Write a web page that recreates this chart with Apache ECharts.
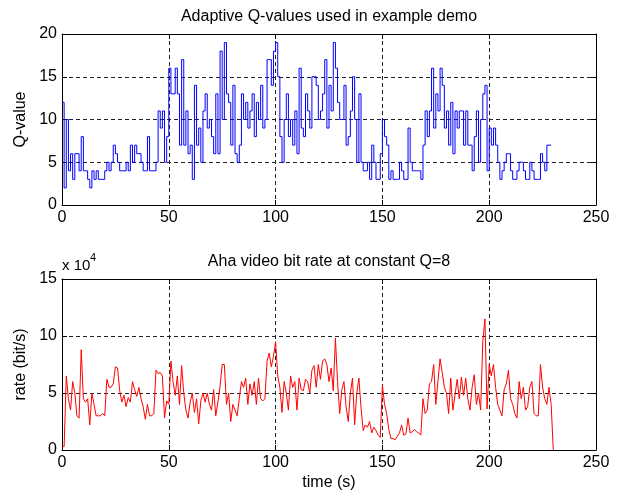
<!DOCTYPE html>
<html><head><meta charset="utf-8">
<script src="https://cdn.jsdelivr.net/npm/echarts/dist/echarts.min.js"></script>
<style>html,body{margin:0;padding:0;background:#fff}#c{width:618px;height:496px}</style>
</head><body><div id="c"></div>
<script>
// Top panel: adaptive Q-value per second (t = 0..229 s)
const qValues = [12,2,10,4,6,3,6,6,4,8, 4,4,3,2,4,3,4,3,3,3, 4,5,4,5,7,6,5,4,4,4,
 5,4,7,5,7,6,6,5,4,4, 8,4,4,4,5,11,9,11,5,8, 16,13,13,16,13,7,17,7,11,6,
 7,3,14,7,9,5,11,13,9,10, 8,6,13,6,18,10,19,13,12,7, 14,6,5,7,13,10,12,9,11,13,
 8,12,10,14,9,10,17,17,14,18, 19,15,8,5,10,13,8,10,7,11, 6,16,9,8,13,11,9,15,15,14,
 10,11,13,17,9,14,11,19,16,12, 10,10,14,7,8,11,15,10,5,13, 5,4,4,5,3,7,5,3,3,6,
 10,8,7,3,4,3,3,3,5,4, 3,3,9,5,4,4,4,4,3,7, 11,8,11,16,9,13,11,16,14,9,
 11,7,12,6,11,9,11,11,7,11, 7,7,4,8,11,5,10,13,14,4, 9,7,9,7,5,3,4,5,6,6,
 4,3,3,4,5,5,4,3,3,5, 4,3,3,3,6,5,4,7,7,7];
// Bottom panel: bit rate per second, in units of 10^4 bit/s (t = 0..230 s)
const rateValues = [0.3,0.3,6.5,4.5,3.5,6,5,3,2.8,8.8, 4.5,4.2,4.5,2.2,5,4,3,3,3,3.2,
 3,6.2,5.5,5.5,5.8,7.3,7.2,5.2,4.2,4.8, 3.8,4.6,4.2,6,5.3,4.7,5.5,4.5,3.8,2.7,
 4,3,3,3.2,7,6.7,6.8,6.5,2.8,4.3, 4,7.8,6,4.8,6.5,4,7.4,5,3.5,2.8,
 4.2,5,3.3,4.5,2.3,4.3,5,4.2,5,4, 3.5,5.3,3,4.2,5.6,7.5,7.5,4,5,2.5,
 4,3.5,3,4.5,6,5.5,6.3,4,5.8,4.8, 6,4,6.3,4.5,4.3,4.5,7.8,8.5,7.3,8.2,
 9.5,6.5,5.5,3.3,6,5,3.5,6.5,5.5,6, 3.5,6.3,5.3,5.2,6.2,6,5,7,7.4,5.5,
 7.5,6.2,7.8,8,7.5,6,7.2,5.2,9.8,6, 3.2,5.3,6,3.8,2.5,5,6.3,2.2,5,6.3,
 3.7,1.7,2.2,2,2.5,1.5,2,1.7,1.3,1.1, 5.7,4,3.2,1.8,1,1,0.9,1.2,1.5,2.2,
 1.3,1.4,2.8,1.5,1.6,1.8,1.6,1.5,1.3,4.5, 3.2,3.5,5.8,6,7.5,4,6,8,6.8,5.5,
 5,3.2,6.3,3.5,4.8,6.2,4.5,6.4,4.8,6.3, 4.5,3.5,5.5,6.6,4,5,3.5,9.5,11.5,3.6,
 7.5,6.5,7.5,5.5,4,3.5,3,5.3,5.8,7, 4.5,4,3.2,2.8,6,4.5,5.5,3.5,3.8,5.5,
 6,3.2,3,3,7.5,5.5,4.5,4,5.5,4, 0];
const xTicks = [0,50,100,150,200,250];
const qTicks = [0,5,10,15,20];
const rateTicks = [0,5,10,15];

const font = '"Liberation Sans", Arial, Helvetica, sans-serif';
const black = '#000';
const gridDash = {color:'#222', type:[4,3], width:1};
const FS = 16;

function xAxes(gi, name) {
  return [
    {type:'value', gridIndex:gi, min:xTicks[0], max:xTicks[xTicks.length-1], interval:xTicks[1]-xTicks[0],
     axisLine:{show:true, onZero:false, lineStyle:{color:black, width:1}},
     axisTick:{show:true, inside:true, length:5, lineStyle:{color:black}},
     axisLabel:{color:black, fontSize:FS, fontFamily:font, margin:5},
     splitLine:{show:true, lineStyle:gridDash},
     name:name, nameLocation:'middle', nameGap:25,
     nameTextStyle:{color:black, fontSize:FS, fontFamily:font}},
    {type:'value', gridIndex:gi, position:'top', min:xTicks[0], max:xTicks[xTicks.length-1], interval:xTicks[1]-xTicks[0],
     axisLine:{show:true, onZero:false, lineStyle:{color:black, width:1}},
     axisTick:{show:true, inside:true, length:5, lineStyle:{color:black}},
     axisLabel:{show:false}, splitLine:{show:false}}
  ];
}
function yAxes(gi, ticks, name) {
  return [
    {type:'value', gridIndex:gi, min:ticks[0], max:ticks[ticks.length-1], interval:ticks[1]-ticks[0],
     axisLine:{show:true, onZero:false, lineStyle:{color:black, width:1}},
     axisTick:{show:true, inside:true, length:5, lineStyle:{color:black}},
     axisLabel:{color:black, fontSize:FS, fontFamily:font, margin:5},
     splitLine:{show:true, lineStyle:gridDash},
     name:name, nameLocation:'middle', nameGap:33,
     nameTextStyle:{color:black, fontSize:FS, fontFamily:font}},
    {type:'value', gridIndex:gi, position:'right', min:ticks[0], max:ticks[ticks.length-1], interval:ticks[1]-ticks[0],
     axisLine:{show:true, onZero:false, lineStyle:{color:black, width:1}},
     axisTick:{show:true, inside:true, length:5, lineStyle:{color:black}},
     axisLabel:{show:false}, splitLine:{show:false}}
  ];
}

const chart = echarts.init(document.getElementById('c'), null, {renderer:'canvas'});
chart.setOption({
  animation:false,
  backgroundColor:'#fff',
  grid:[
    {left:62, right:22, top:34, height:171},
    {left:62, right:22, top:279, height:171}
  ],
  xAxis:[...xAxes(0,''), ...xAxes(1,'time (s)')],
  yAxis:[...yAxes(0,qTicks,'Q-value'), ...yAxes(1,rateTicks,'rate (bit/s)')],
  graphic:[
    {type:'text', x:329, y:17, style:{text:'Adaptive Q-values used in example demo', align:'center', verticalAlign:'middle', fontSize:FS, fontFamily:font, fill:black}},
    {type:'text', x:329, y:262, style:{text:'Aha video bit rate at constant Q=8', align:'center', verticalAlign:'middle', fontSize:FS, fontFamily:font, fill:black}},
    {type:'text', x:62, y:266, style:{text:'x 10', align:'left', verticalAlign:'middle', fontSize:15, fontFamily:font, fill:black}},
    {type:'text', x:90, y:258, style:{text:'4', align:'left', verticalAlign:'middle', fontSize:11, fontFamily:font, fill:black}}
  ],
  series:[
    {type:'line', xAxisIndex:0, yAxisIndex:0, step:'end', showSymbol:false,
     data:qValues.map((v,i)=>[i,v]), lineStyle:{color:'#0000ff', width:1}},
    {type:'line', xAxisIndex:2, yAxisIndex:2, showSymbol:false,
     data:rateValues.map((v,i)=>[i,v]), lineStyle:{color:'#ff0000', width:1}}
  ]
});
</script>
</body></html>
